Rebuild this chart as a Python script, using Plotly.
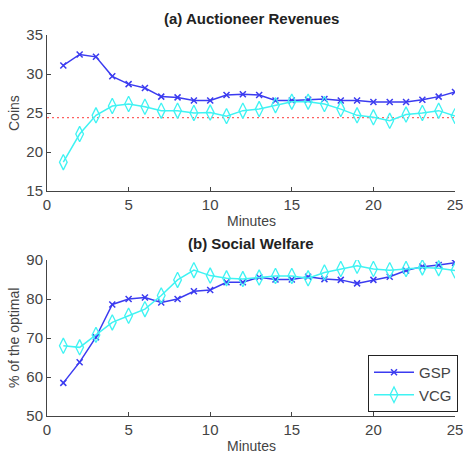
import plotly.graph_objects as go
from plotly.subplots import make_subplots

minutes = list(range(1, 26))
rev_gsp = [31.1, 32.5, 32.2, 29.7, 28.7, 28.2, 27.1, 27.0, 26.6, 26.6, 27.3, 27.4, 27.3, 26.6, 26.6,
           26.7, 26.8, 26.6, 26.6, 26.4, 26.4, 26.4, 26.7, 27.1, 27.7]
rev_vcg = [18.7, 22.3, 24.7, 25.9, 26.15, 25.8, 25.3, 25.3, 25.0, 25.05, 24.6, 25.3, 25.5, 26.0, 26.45,
           26.45, 26.15, 25.5, 24.7, 24.45, 24.0, 24.8, 25.0, 25.3, 24.6]
rev_ref_x = [0, 25]
rev_ref_y = [24.4, 24.4]
sw_gsp = [58.5, 63.8, 70.2, 78.6, 80.0, 80.4, 79.1, 80.0, 82.0, 82.3, 84.3, 84.3, 85.6, 85.0, 85.0,
          85.7, 85.1, 84.9, 84.0, 84.9, 85.7, 87.3, 88.3, 88.7, 89.3]
sw_vcg = [68.0, 67.6, 70.8, 74.0, 75.7, 77.4, 80.9, 84.9, 87.4, 86.0, 85.3, 85.1, 85.5, 85.9, 85.9,
          85.3, 86.8, 87.7, 88.5, 87.7, 87.4, 87.7, 88.1, 87.9, 87.3]

GSP_C = "#3b3bf0"
VCG_C = "#3ff3f3"
FONT = "Liberation Sans Narrow, Liberation Sans, Arial"

fig = make_subplots(rows=2, cols=1)

def gsp(x, y, show):
    return go.Scatter(x=x, y=y, mode="lines+markers", name="GSP", showlegend=show,
                      line=dict(color=GSP_C, width=1.5),
                      marker=dict(symbol="x-thin", size=6, line=dict(color=GSP_C, width=1.5)))

def vcg(x, y, show):
    return go.Scatter(x=x, y=y, mode="lines+markers", name="VCG", showlegend=show,
                      line=dict(color=VCG_C, width=1.5),
                      marker=dict(symbol="diamond-tall-open", size=11, color=VCG_C, line=dict(color=VCG_C, width=1.3)))

fig.add_trace(go.Scatter(x=rev_ref_x, y=rev_ref_y, mode="lines", showlegend=False,
                         line=dict(color="#ff6060", width=1.2, dash="2px,3px")), row=1, col=1)
fig.add_trace(gsp(minutes, rev_gsp, False), row=1, col=1)
fig.add_trace(vcg(minutes, rev_vcg, False), row=1, col=1)
fig.add_trace(gsp(minutes, sw_gsp, True), row=2, col=1)
fig.add_trace(vcg(minutes, sw_vcg, True), row=2, col=1)

axis_common = dict(showgrid=False, zeroline=False, showline=True, linecolor="#444", linewidth=1,
                   ticks="inside", ticklen=4, tickcolor="#444", automargin=False,
                   tickfont=dict(family=FONT, size=15, color="#444"))

W, H = 463, 455
xdom = [47 / W, 455 / W]
fig.update_xaxes(range=[0, 25], dtick=5, domain=xdom, ticklabeloverflow="allow", **axis_common)
fig.update_yaxes(range=[15, 35], dtick=5, domain=[(H - 191) / H, (H - 35) / H], row=1, col=1, **axis_common)
fig.update_yaxes(range=[50, 90], dtick=10, domain=[(H - 416) / H, (H - 260) / H], row=2, col=1, **axis_common)

tfont = dict(family=FONT, size=14, color="#444")

def ann(text, x, y, font, angle=0):
    fig.add_annotation(text=text, x=x / W, y=1 - y / H, xref="paper", yref="paper", showarrow=False,
                       font=font, textangle=angle, xanchor="center", yanchor="middle")

ann("<b>(a) Auctioneer Revenues</b>", 251, 19, dict(family=FONT, size=15, color="#222"))
ann("<b>(b) Social Welfare</b>", 251, 243, dict(family=FONT, size=15, color="#222"))
ann("Minutes", 251, 221, tfont)
ann("Minutes", 251, 446, tfont)
ann("Coins", 14, 113, tfont, -90)
ann("% of the optimal", 14, 338, tfont, -90)

fig.update_layout(
    width=W, height=H, margin=dict(l=0, r=0, t=0, b=0),
    paper_bgcolor="white", plot_bgcolor="white",
    legend=dict(x=368 / W, y=1 - 355 / H, xanchor="left", yanchor="top",
                bordercolor="#222", borderwidth=1, bgcolor="white",
                font=dict(family=FONT, size=15, color="#444"), tracegroupgap=0, itemwidth=40),
)

fig.write_html("out.html", post_script="document.body.style.margin='0';",
               config={"displayModeBar": False})
